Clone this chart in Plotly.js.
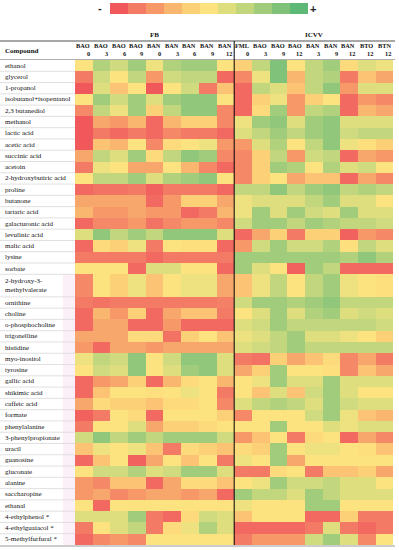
<!DOCTYPE html>
<html><head><meta charset="utf-8">
<script src="https://cdn.plot.ly/plotly-3.0.1.min.js"></script>
<style>html,body{margin:0;padding:0;background:#fff}#chart{width:399px;height:550px}</style>
</head><body><div id="chart"></div>
<script>
const compounds = ['ethanol','glycerol','1-propanol','isobutanol+isopentanol','2,3 butanediol','methanol','lactic acid','acetic acid','succinic acid','acetoin','2-hydroxybutiric acid','proline','butanone','tartaric acid','galacturonic acid','levulinic acid','malic acid','lysine','sorbate','2-hydroxy-3-<br>methylvalerate','ornithine','choline','o-phosphocholine','trigonelline','histidine','myo-inositol','tyrosine','gallic acid','shikimic acid','caffeic acid','formate','phenylalanine','3-phenylpropionate','uracil','guanosine','gluconate','alanine','saccharopine','ethanal','4-ethylphenol *','4-ethylguaiacol *','5-methylfurfural *'];
const groups = ['FB','ICVV'];
const groupSizes = [9, 9];
const colTop = ['BAO','BAO','BAO','BAO','BAN','BAN','BAN','BAN','BAN','FML','BAO','BAO','BAO','BAN','BAN','BAN','BTO','BTN'];
const colBottom = ['0','3','6','9','0','3','6','9','12','0','3','9','12','3','9','12','12','12'];
const values = [
 [5,7.5,6.5,8,5.5,7.5,8,8,5, 4,7,9,5,7,8,4.5,6,5.5],
 [1,6.5,5,7,2,6.5,7,7,0.5, 1.5,5.5,9,3,7,7.5,1,3.5,2.5],
 [0,6,3.5,5,0,5,6.5,1,3.5, 0.5,7,6,3.5,7,8.5,2,6,6],
 [5,8,6.5,8,6,8,8.5,8.5,5, 0.5,4,5.5,2,4,5,0.5,2,1.5],
 [1.5,7,5.5,8,4,7,8.5,8.5,1.5, 0.5,4.5,8,2,7,7.5,0.5,3,2.5],
 [0,2.5,2,3,0.5,3,4,4,1.5, 5.5,8,8.5,6,8,8.5,6,6,6],
 [0,1,0.5,1,0.5,1.5,1,1,0.5, 6,7,8,7,8,8.5,6.5,7,7],
 [0,3.5,3,5,1.5,4.5,5,5.5,2, 2,6,7.5,5,7,8.5,5.5,4.8,4],
 [2.5,7,6,8,4.5,7,8.5,8,1.5, 1.5,4,7,2,6.5,7,0.5,2.5,2],
 [1,5.5,5,2.5,2.5,5,3,1.5,0.5, 1.5,4,8,7.5,5,7.5,6,6.5,5],
 [5,7,7,8,6,7.5,8,8.5,5, 1.5,4,5,2.5,3.5,3.5,0.5,2.5,1.5],
 [0.5,0.8,0.8,1,0.3,1,1,1,0.5, 7,7,8.5,7,8,8.5,7,7.5,7],
 [2.5,2.5,2.5,2.5,0.5,2,4,4,2.5, 5.5,6,6,6,7,8,6,6,5],
 [3,2,2,2.5,2,2,0.5,1,3, 5.5,8,6,8,6.5,6,8,6,6],
 [0.5,1.5,1.5,2,0.8,1.5,2,2,1.5, 6.5,8,8,7,8,7.5,7,7,6.5],
 [6,8.5,7,8,7,8.5,8.5,8.5,6, 0.5,2.5,4,1,4,4,0.3,2,1.5],
 [0.5,4.5,4,5.5,1,5,4.8,4.8,0.5, 2,6.5,8,6.5,6.5,7.5,4.8,7,6],
 [1,1,1,1,0.5,1,1,1,1, 8,8,8,8,8,8,7.5,8.5,7.5],
 [5,5,5,0.5,6,6,5,5,0.5, 8,6,5,0.3,8,7,0.5,0.5,0.5],
 [1.5,5,4,5.5,3.5,5,5.5,5.5,2.5, 3.5,5.5,7,5,7,8,5.5,5,4.8],
 [1,0.8,1,1,1,1,1,1,1.2, 6.5,8,8,7.5,8,8.5,7,7,7],
 [0.5,3,2,4,0.5,2.5,3.5,3.5,1, 5,6,8,6,7.5,8,6,6.5,6],
 [0.5,2.5,2.5,0.5,0.5,2,0.5,0.5,0.5, 6,6.5,8,7,7,7,7,7,6.5],
 [2.5,2.5,2.5,4.5,4.5,0.8,4,5,3.5, 5.5,6,7,8,6,6,5.5,5,4],
 [2,0.5,2.5,2.5,2,2.5,2.5,2.5,2.5, 6,6.5,7,8,7,7,7,7,7],
 [5.5,7,6.5,8.5,5,6.5,8.5,8.5,6, 1,0.8,4,2.5,3.5,4.5,1.5,2.5,1],
 [5,6.5,6,8.5,5,6,8,8.5,6, 2.5,4,8,5,5,4.8,1.5,3.5,2.5],
 [0.5,2,2.5,4,0.5,3,4.5,5,3, 5,5.5,8,6,6,8,6,6,6],
 [0.5,3.5,5,5,4.8,5,5.5,5,1, 5,3.5,6,3.5,6.5,8,6,5,5],
 [2.5,4.5,4,4,3.5,4.5,4.5,5,1.5, 6,7,7.5,7,6,8,6.5,6,6],
 [0.3,1,5,4.5,0.5,5,5,5,4, 1.5,5,5,5,6.5,8,5.5,3.5,3],
 [1,5,5,6,2.5,4,4,4.5,5, 5,5,8,5,5,6,5.5,6,6],
 [6.5,8.5,7,8,7,8,8,8,6.5, 2,3.5,5,1,4.5,5,0.5,2.5,1.5],
 [3.5,5.5,5,5.5,3.5,1,4.5,4,3.5, 4.5,4,8,5,5.5,5.5,5,4.8,3.5],
 [0.5,3.5,5,0.3,2.5,5,3.5,5,1, 5.5,5,8,2.5,5,5,5,5,5],
 [5,6.5,6.5,7.5,6,6.5,8,8,6, 1,1,4.5,5,1,3.5,3.5,4,2.5],
 [2,1.5,3.5,3.5,0.5,2.5,4.5,4.5,3.5, 5,5.5,8,6.5,6.5,7,6,6,5],
 [2,2.5,1.5,2,2.5,2.5,2,2.5,0.5, 8,7,7,6,8,7,6,6,6],
 [5,0.5,5,5,5,5,5,5,5, 5.5,5,5,5,8,8,5,5,5],
 [6,6,6,8,1,0.5,4.5,6.5,6, 3.5,5,5,5,0.5,0.5,4,1,1],
 [1,5,6,7,1,4.5,5.5,7.5,6, 0.5,0.5,0.5,0.5,1,6,1,0.5,1],
 [0.5,1.5,2,1.5,5,5,5,5,5, 1,2,2,2,6.5,8,6,1.5,5]
];
const legendSteps = [0,1,2,3,4,5,6,7,8,9,10];

const W = 399, H = 550;
const px = v => v / W;
const py = v => 1 - v / H;
const serif = 'Liberation Serif, Times New Roman, serif';
const cscale = [[0,'#F0585C'],[0.1,'#F37A65'],[0.2,'#F69868'],[0.3,'#F9B66F'],[0.4,'#FCD077'],[0.5,'#FDE380'],
                [0.6,'#DEDE7F'],[0.7,'#C2D67D'],[0.8,'#A0CC7B'],[0.9,'#80C279'],[1,'#5EB876']];

const rowHeights = compounds.map(c => c.includes('<br>') ? 2 : 1);
const edges = [0];
rowHeights.forEach(h => edges.push(edges[edges.length - 1] + h));
const nUnits = edges[edges.length - 1];
const nCols = colTop.length;
const colIdx = colTop.map((_, i) => i);

const TOP = 60, BOT = 545, LEFT = 75, RIGHT = 393.4, HDR = 41;

const traces = [
  {type:'heatmap', z: values, x: colIdx, y: edges, zmin:0, zmax:10, colorscale: cscale,
   showscale:false, hoverinfo:'skip', xaxis:'x', yaxis:'y'},
  {type:'heatmap', z: [legendSteps], zmin:0, zmax:10, colorscale: cscale,
   showscale:false, hoverinfo:'skip', xaxis:'x2', yaxis:'y2'}
];

const annotations = [];
const shapes = [];

for (let i = 1; i < edges.length - 1; i++) {
  shapes.push({type:'line', xref:'paper', yref:'y', x0:0, x1:px(LEFT), y0:edges[i], y1:edges[i],
    line:{color:'#d8d8d8', width:0.8}});
}
shapes.push({type:'rect', xref:'paper', yref:'y', x0:px(63), x1:px(LEFT), y0:edges[19], y1:nUnits,
  fillcolor:'#fcf0f8', line:{width:0}, layer:'below'});
shapes.push({type:'line', xref:'paper', yref:'paper', x0:0, x1:px(395), y0:py(HDR), y1:py(HDR), line:{color:'#8a8a8a', width:1.5}});
shapes.push({type:'line', xref:'paper', yref:'paper', x0:0, x1:px(395), y0:py(TOP-0.5), y1:py(TOP-0.5), line:{color:'#b0b0b0', width:1}});
shapes.push({type:'line', xref:'paper', yref:'paper', x0:0, x1:px(395), y0:py(BOT+1), y1:py(BOT+1), line:{color:'#9a9a9a', width:1}});
shapes.push({type:'line', xref:'x', yref:'paper', x0:groupSizes[0]-0.5, x1:groupSizes[0]-0.5, y0:py(HDR), y1:py(BOT),
  line:{color:'#000', width:1}});

compounds.forEach((c, i) => {
  annotations.push({xref:'paper', yref:'y', x:px(3), y:(edges[i] + edges[i+1]) / 2, xanchor:'left', yanchor:'middle',
    text:c, showarrow:false, align:'left', font:{family:serif, size:7, color:'#111'}});
});
colTop.forEach((t, i) => {
  annotations.push({xref:'x', yref:'paper', x:i + 0.47, y:py(46), xanchor:'right', yanchor:'middle', text:'<b>'+t+'</b>',
    showarrow:false, font:{family:serif, size:6.3, color:'#111'}});
  annotations.push({xref:'x', yref:'paper', x:i + 0.47, y:py(54), xanchor:'right', yanchor:'middle', text:'<b>'+colBottom[i]+'</b>',
    showarrow:false, font:{family:serif, size:6.3, color:'#111'}});
});
let start = 0;
groups.forEach((g, gi) => {
  const center = start + groupSizes[gi] / 2 - 0.5;
  annotations.push({xref:'x', yref:'paper', x:center, y:py(35), xanchor:'center', yanchor:'middle', text:'<b>'+g+'</b>',
    showarrow:false, font:{family:serif, size:7, color:'#111'}});
  start += groupSizes[gi];
});
annotations.push({xref:'paper', yref:'paper', x:px(3), y:py(51), xanchor:'left', yanchor:'middle', text:'<b>Compound</b>',
  showarrow:false, font:{family:serif, size:7, color:'#111'}});
annotations.push({xref:'paper', yref:'paper', x:px(100), y:py(8), xanchor:'center', yanchor:'middle', text:'<b>-</b>',
  showarrow:false, font:{family:'Liberation Sans, Arial', size:11, color:'#222'}});
annotations.push({xref:'paper', yref:'paper', x:px(313), y:py(9), xanchor:'center', yanchor:'middle', text:'<b>+</b>',
  showarrow:false, font:{family:'Liberation Sans, Arial', size:11, color:'#222'}});

const hidden = {visible:false, showgrid:false, zeroline:false, fixedrange:true};
const layout = {
  width: W, height: H, margin:{l:0, r:0, t:0, b:0}, paper_bgcolor:'#fff', plot_bgcolor:'#fff',
  xaxis: Object.assign({domain:[px(LEFT), px(RIGHT)], range:[-0.5, nCols - 0.5]}, hidden),
  yaxis: Object.assign({domain:[py(BOT), py(TOP)], range:[nUnits, 0]}, hidden),
  xaxis2: Object.assign({domain:[px(110), px(308)], range:[-0.5, legendSteps.length - 0.5], anchor:'y2'}, hidden),
  yaxis2: Object.assign({domain:[py(14), py(3)], range:[-0.5, 0.5], anchor:'x2'}, hidden),
  shapes, annotations, showlegend:false
};
Plotly.newPlot('chart', traces, layout, {staticPlot:true, displayModeBar:false});
</script></body></html>
